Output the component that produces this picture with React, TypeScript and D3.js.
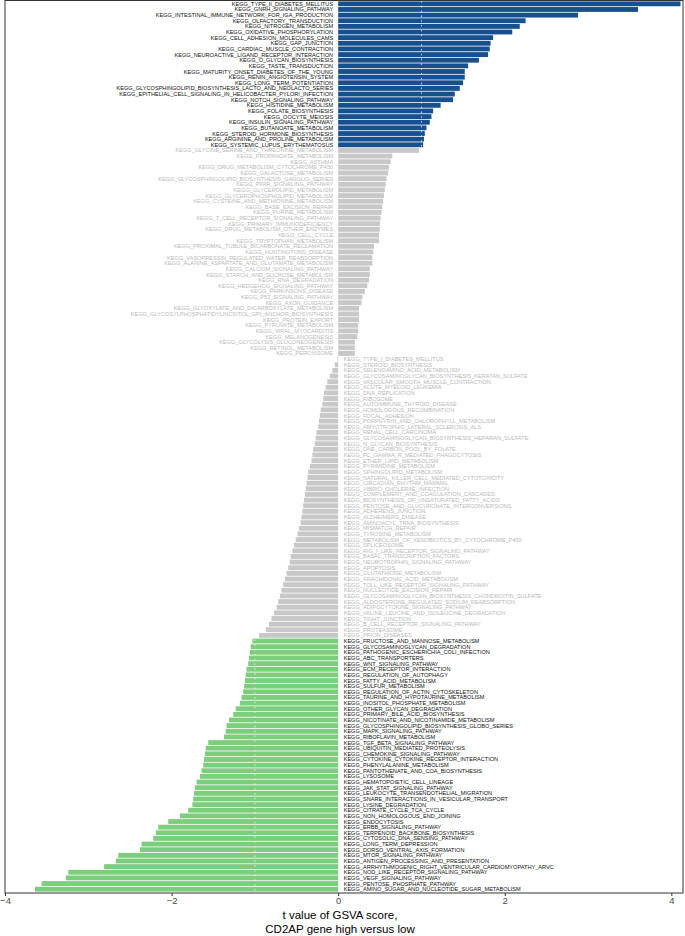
import * as d3 from "d3";
import { useEffect, useRef } from "react";

const W = 685;
const H = 936;

// significantly up (blue)
const upSigNames = [
  "KEGG_TYPE_II_DIABETES_MELLITUS",
  "KEGG_GNRH_SIGNALING_PATHWAY",
  "KEGG_INTESTINAL_IMMUNE_NETWORK_FOR_IGA_PRODUCTION",
  "KEGG_OLFACTORY_TRANSDUCTION",
  "KEGG_NITROGEN_METABOLISM",
  "KEGG_OXIDATIVE_PHOSPHORYLATION",
  "KEGG_CELL_ADHESION_MOLECULES_CAMS",
  "KEGG_GAP_JUNCTION",
  "KEGG_CARDIAC_MUSCLE_CONTRACTION",
  "KEGG_NEUROACTIVE_LIGAND_RECEPTOR_INTERACTION",
  "KEGG_O_GLYCAN_BIOSYNTHESIS",
  "KEGG_TASTE_TRANSDUCTION",
  "KEGG_MATURITY_ONSET_DIABETES_OF_THE_YOUNG",
  "KEGG_RENIN_ANGIOTENSIN_SYSTEM",
  "KEGG_LONG_TERM_POTENTIATION",
  "KEGG_GLYCOSPHINGOLIPID_BIOSYNTHESIS_LACTO_AND_NEOLACTO_SERIES",
  "KEGG_EPITHELIAL_CELL_SIGNALING_IN_HELICOBACTER_PYLORI_INFECTION",
  "KEGG_NOTCH_SIGNALING_PATHWAY",
  "KEGG_HISTIDINE_METABOLISM",
  "KEGG_FOLATE_BIOSYNTHESIS",
  "KEGG_OOCYTE_MEIOSIS",
  "KEGG_INSULIN_SIGNALING_PATHWAY",
  "KEGG_BUTANOATE_METABOLISM",
  "KEGG_STEROID_HORMONE_BIOSYNTHESIS",
  "KEGG_ARGININE_AND_PROLINE_METABOLISM",
  "KEGG_SYSTEMIC_LUPUS_ERYTHEMATOSUS",
];
const upSigT = [
  4.11, 3.6, 2.88, 2.25, 2.18, 2.09, 1.86, 1.83, 1.82, 1.8, 1.69, 1.56, 1.52,
  1.52, 1.5, 1.46, 1.4, 1.38, 1.23, 1.14, 1.12, 1.1, 1.06, 1.04, 1.03, 1.02,
];

// not significant, positive (grey)
const upNsNames = [
  "KEGG_GLYCINE_SERINE_AND_THREONINE_METABOLISM",
  "KEGG_PROPANOATE_METABOLISM",
  "KEGG_ASTHMA",
  "KEGG_DRUG_METABOLISM_CYTOCHROME_P450",
  "KEGG_GALACTOSE_METABOLISM",
  "KEGG_GLYCOSPHINGOLIPID_BIOSYNTHESIS_GANGLIO_SERIES",
  "KEGG_PPAR_SIGNALING_PATHWAY",
  "KEGG_GLYCEROLIPID_METABOLISM",
  "KEGG_GLYCEROPHOSPHOLIPID_METABOLISM",
  "KEGG_CYSTEINE_AND_METHIONINE_METABOLISM",
  "KEGG_BASE_EXCISION_REPAIR",
  "KEGG_PURINE_METABOLISM",
  "KEGG_T_CELL_RECEPTOR_SIGNALING_PATHWAY",
  "KEGG_PRIMARY_IMMUNODEFICIENCY",
  "KEGG_DRUG_METABOLISM_OTHER_ENZYMES",
  "KEGG_CELL_CYCLE",
  "KEGG_TRYPTOPHAN_METABOLISM",
  "KEGG_PROXIMAL_TUBULE_BICARBONATE_RECLAMATION",
  "KEGG_HUNTINGTONS_DISEASE",
  "KEGG_VASOPRESSIN_REGULATED_WATER_REABSORPTION",
  "KEGG_ALANINE_ASPARTATE_AND_GLUTAMATE_METABOLISM",
  "KEGG_CALCIUM_SIGNALING_PATHWAY",
  "KEGG_STARCH_AND_SUCROSE_METABOLISM",
  "KEGG_RNA_DEGRADATION",
  "KEGG_HEDGEHOG_SIGNALING_PATHWAY",
  "KEGG_PARKINSONS_DISEASE",
  "KEGG_P53_SIGNALING_PATHWAY",
  "KEGG_AXON_GUIDANCE",
  "KEGG_GLYOXYLATE_AND_DICARBOXYLATE_METABOLISM",
  "KEGG_GLYCOSYLPHOSPHATIDYLINOSITOL_GPI_ANCHOR_BIOSYNTHESIS",
  "KEGG_PROTEIN_EXPORT",
  "KEGG_PYRUVATE_METABOLISM",
  "KEGG_VIRAL_MYOCARDITIS",
  "KEGG_MELANOGENESIS",
  "KEGG_GLYCOLYSIS_GLUCONEOGENESIS",
  "KEGG_RETINOL_METABOLISM",
  "KEGG_PEROXISOME",
];
const upNsT = [
  0.97, 0.65, 0.63, 0.61, 0.6, 0.58, 0.57, 0.56, 0.55, 0.54, 0.53, 0.52, 0.51,
  0.5, 0.5, 0.49, 0.49, 0.43, 0.42, 0.41, 0.41, 0.38, 0.38, 0.37, 0.35, 0.32,
  0.29, 0.28, 0.25, 0.25, 0.25, 0.24, 0.24, 0.23, 0.2, 0.2, 0.2,
];

// not significant, negative (grey)
const downNsNames = [
  "KEGG_TYPE_I_DIABETES_MELLITUS",
  "KEGG_STEROID_BIOSYNTHESIS",
  "KEGG_SELENOAMINO_ACID_METABOLISM",
  "KEGG_GLYCOSAMINOGLYCAN_BIOSYNTHESIS_KERATAN_SULFATE",
  "KEGG_VASCULAR_SMOOTH_MUSCLE_CONTRACTION",
  "KEGG_ACUTE_MYELOID_LEUKEMIA",
  "KEGG_DNA_REPLICATION",
  "KEGG_RIBOSOME",
  "KEGG_AUTOIMMUNE_THYROID_DISEASE",
  "KEGG_HOMOLOGOUS_RECOMBINATION",
  "KEGG_FOCAL_ADHESION",
  "KEGG_PORPHYRIN_AND_CHLOROPHYLL_METABOLISM",
  "KEGG_AMYOTROPHIC_LATERAL_SCLEROSIS_ALS",
  "KEGG_RENAL_CELL_CARCINOMA",
  "KEGG_GLYCOSAMINOGLYCAN_BIOSYNTHESIS_HEPARAN_SULFATE",
  "KEGG_N_GLYCAN_BIOSYNTHESIS",
  "KEGG_ONE_CARBON_POOL_BY_FOLATE",
  "KEGG_FC_GAMMA_R_MEDIATED_PHAGOCYTOSIS",
  "KEGG_ETHER_LIPID_METABOLISM",
  "KEGG_PYRIMIDINE_METABOLISM",
  "KEGG_SPHINGOLIPID_METABOLISM",
  "KEGG_NATURAL_KILLER_CELL_MEDIATED_CYTOTOXICITY",
  "KEGG_CIRCADIAN_RHYTHM_MAMMAL",
  "KEGG_VIBRIO_CHOLERAE_INFECTION",
  "KEGG_COMPLEMENT_AND_COAGULATION_CASCADES",
  "KEGG_BIOSYNTHESIS_OF_UNSATURATED_FATTY_ACIDS",
  "KEGG_PENTOSE_AND_GLUCURONATE_INTERCONVERSIONS",
  "KEGG_ADHERENS_JUNCTION",
  "KEGG_ALZHEIMERS_DISEASE",
  "KEGG_AMINOACYL_TRNA_BIOSYNTHESIS",
  "KEGG_MISMATCH_REPAIR",
  "KEGG_TYROSINE_METABOLISM",
  "KEGG_METABOLISM_OF_XENOBIOTICS_BY_CYTOCHROME_P450",
  "KEGG_SPLICEOSOME",
  "KEGG_RIG_I_LIKE_RECEPTOR_SIGNALING_PATHWAY",
  "KEGG_BASAL_TRANSCRIPTION_FACTORS",
  "KEGG_NEUROTROPHIN_SIGNALING_PATHWAY",
  "KEGG_APOPTOSIS",
  "KEGG_GLUTATHIONE_METABOLISM",
  "KEGG_ARACHIDONIC_ACID_METABOLISM",
  "KEGG_TOLL_LIKE_RECEPTOR_SIGNALING_PATHWAY",
  "KEGG_NUCLEOTIDE_EXCISION_REPAIR",
  "KEGG_GLYCOSAMINOGLYCAN_BIOSYNTHESIS_CHONDROITIN_SULFATE",
  "KEGG_ALDOSTERONE_REGULATED_SODIUM_REABSORPTION",
  "KEGG_ADIPOCYTOKINE_SIGNALING_PATHWAY",
  "KEGG_VALINE_LEUCINE_AND_ISOLEUCINE_DEGRADATION",
  "KEGG_TIGHT_JUNCTION",
  "KEGG_B_CELL_RECEPTOR_SIGNALING_PATHWAY",
  "KEGG_PROTEASOME",
  "KEGG_PRION_DISEASES",
];
const downNsT = [
  -0.01, -0.04, -0.07, -0.1, -0.13, -0.15, -0.17, -0.18, -0.19, -0.21, -0.22,
  -0.23, -0.24, -0.26, -0.27, -0.28, -0.3, -0.31, -0.32, -0.34, -0.36, -0.37,
  -0.38, -0.39, -0.4, -0.41, -0.42, -0.43, -0.44, -0.45, -0.47, -0.49, -0.51,
  -0.53, -0.55, -0.57, -0.58, -0.6, -0.62, -0.64, -0.66, -0.68, -0.7, -0.72,
  -0.74, -0.77, -0.8, -0.83, -0.87, -0.95,
];

// significantly down (green)
const downSigNames = [
  "KEGG_FRUCTOSE_AND_MANNOSE_METABOLISM",
  "KEGG_GLYCOSAMINOGLYCAN_DEGRADATION",
  "KEGG_PATHOGENIC_ESCHERICHIA_COLI_INFECTION",
  "KEGG_ABC_TRANSPORTERS",
  "KEGG_WNT_SIGNALING_PATHWAY",
  "KEGG_ECM_RECEPTOR_INTERACTION",
  "KEGG_REGULATION_OF_AUTOPHAGY",
  "KEGG_FATTY_ACID_METABOLISM",
  "KEGG_SULFUR_METABOLISM",
  "KEGG_REGULATION_OF_ACTIN_CYTOSKELETON",
  "KEGG_TAURINE_AND_HYPOTAURINE_METABOLISM",
  "KEGG_INOSITOL_PHOSPHATE_METABOLISM",
  "KEGG_OTHER_GLYCAN_DEGRADATION",
  "KEGG_PRIMARY_BILE_ACID_BIOSYNTHESIS",
  "KEGG_NICOTINATE_AND_NICOTINAMIDE_METABOLISM",
  "KEGG_GLYCOSPHINGOLIPID_BIOSYNTHESIS_GLOBO_SERIES",
  "KEGG_MAPK_SIGNALING_PATHWAY",
  "KEGG_RIBOFLAVIN_METABOLISM",
  "KEGG_TGF_BETA_SIGNALING_PATHWAY",
  "KEGG_UBIQUITIN_MEDIATED_PROTEOLYSIS",
  "KEGG_CHEMOKINE_SIGNALING_PATHWAY",
  "KEGG_CYTOKINE_CYTOKINE_RECEPTOR_INTERACTION",
  "KEGG_PHENYLALANINE_METABOLISM",
  "KEGG_PANTOTHENATE_AND_COA_BIOSYNTHESIS",
  "KEGG_LYSOSOME",
  "KEGG_HEMATOPOIETIC_CELL_LINEAGE",
  "KEGG_JAK_STAT_SIGNALING_PATHWAY",
  "KEGG_LEUKOCYTE_TRANSENDOTHELIAL_MIGRATION",
  "KEGG_SNARE_INTERACTIONS_IN_VESICULAR_TRANSPORT",
  "KEGG_LYSINE_DEGRADATION",
  "KEGG_CITRATE_CYCLE_TCA_CYCLE",
  "KEGG_NON_HOMOLOGOUS_END_JOINING",
  "KEGG_ENDOCYTOSIS",
  "KEGG_ERBB_SIGNALING_PATHWAY",
  "KEGG_TERPENOID_BACKBONE_BIOSYNTHESIS",
  "KEGG_CYTOSOLIC_DNA_SENSING_PATHWAY",
  "KEGG_LONG_TERM_DEPRESSION",
  "KEGG_DORSO_VENTRAL_AXIS_FORMATION",
  "KEGG_MTOR_SIGNALING_PATHWAY",
  "KEGG_ANTIGEN_PROCESSING_AND_PRESENTATION",
  "KEGG_ARRHYTHMOGENIC_RIGHT_VENTRICULAR_CARDIOMYOPATHY_ARVC",
  "KEGG_NOD_LIKE_RECEPTOR_SIGNALING_PATHWAY",
  "KEGG_VEGF_SIGNALING_PATHWAY",
  "KEGG_PENTOSE_PHOSPHATE_PATHWAY",
  "KEGG_AMINO_SUGAR_AND_NUCLEOTIDE_SUGAR_METABOLISM",
];
const downSigT = [
  -1.03, -1.05, -1.06, -1.07, -1.08, -1.1, -1.11, -1.12, -1.13, -1.14, -1.16,
  -1.18, -1.23, -1.26, -1.31, -1.34, -1.35, -1.37, -1.56, -1.59, -1.6, -1.61,
  -1.62, -1.64, -1.66, -1.7, -1.72, -1.73, -1.74, -1.75, -1.8, -1.9, -2.04,
  -2.16, -2.19, -2.22, -2.36, -2.38, -2.64, -2.67, -2.81, -3.24, -3.27, -3.56,
  -3.64,
];

const xLimits = [-4, 4.14];
const xTicks = [-4, -2, 0, 2, 4];
const cutoff = 1;

const colors = { up: "#17508f", down: "#7ccd7c", ns: "#c8c8c8" };
const textColors = { up: "#111111", down: "#111111", ns: "#b9b9b9" };

const App = () => {
  const chartRef = useRef<SVGSVGElement>(null);

  const margin = { top: 1, bottom: 43, left: 5, right: 2 };

  useEffect(() => {
    const svg = d3.select(chartRef.current);
    svg.selectAll("*").remove();

    const rows = [
      ...upSigNames.map((n, i) => ({ name: n, t: upSigT[i], grp: "up" })),
      ...upNsNames.map((n, i) => ({ name: n, t: upNsT[i], grp: "ns" })),
      ...downNsNames.map((n, i) => ({ name: n, t: downNsT[i], grp: "ns" })),
      ...downSigNames.map((n, i) => ({ name: n, t: downSigT[i], grp: "down" })),
    ];

    const x = d3
      .scaleLinear()
      .domain(xLimits)
      .range([margin.left, W - margin.right]);

    const y = d3
      .scaleBand()
      .domain(rows.map(d => d.name))
      .range([margin.top, H - margin.bottom - 1])
      .paddingInner(0.14)
      .paddingOuter(0.07);

    svg.append("rect")
      .attr("width", W)
      .attr("height", H)
      .attr("fill", "#ffffff");

    svg.append("g")
      .selectAll("rect")
      .data(rows)
      .enter()
      .append("rect")
      .attr("x", d => Math.min(x(0), x(d.t)))
      .attr("y", d => y(d.name))
      .attr("width", d => Math.abs(x(d.t) - x(0)))
      .attr("height", y.bandwidth())
      .attr("fill", d => colors[d.grp]);

    // dashed cut-off lines
    [cutoff, -cutoff].forEach(v => {
      svg.append("line")
        .attr("x1", x(v))
        .attr("x2", x(v))
        .attr("y1", margin.top)
        .attr("y2", H - margin.bottom)
        .attr("stroke", "#ffffff")
        .attr("stroke-width", 0.7)
        .attr("stroke-dasharray", "1.6,3.2");
    });

    svg.append("g")
      .selectAll("text")
      .data(rows)
      .enter()
      .append("text")
      .attr("x", d => (d.t > 0 ? x(0) - 5 : x(0) + 5.5))
      .attr("y", d => y(d.name) + y.bandwidth() / 2)
      .attr("dy", "0.36em")
      .attr("text-anchor", d => (d.t > 0 ? "end" : "start"))
      .attr("font-family", "'Liberation Sans', Arial, sans-serif")
      .attr("font-size", 5.6)
      .attr("fill", d => textColors[d.grp])
      .text(d => d.name);

    // panel border
    svg.append("rect")
      .attr("x", margin.left)
      .attr("y", margin.top - 0.5)
      .attr("width", W - margin.right - margin.left)
      .attr("height", H - margin.bottom - margin.top + 0.5)
      .attr("fill", "none")
      .attr("stroke", "#333333")
      .attr("stroke-width", 1);

    const xAxis = d3.axisBottom(x).tickValues(xTicks).tickSize(3).tickSizeOuter(0);
    const gx = svg.append("g")
      .attr("transform", `translate(0, ${H - margin.bottom})`)
      .call(xAxis);
    gx.select(".domain").remove();
    gx.selectAll(".tick line").attr("stroke", "#333333");
    gx.selectAll(".tick text")
      .attr("font-family", "'Liberation Sans', Arial, sans-serif")
      .attr("font-size", 9.5)
      .attr("fill", "#4d4d4d")
      .attr("dy", "0.55em");

    const cx = (margin.left + W - margin.right) / 2 - 4;
    svg.append("text")
      .attr("x", cx)
      .attr("y", H - 17)
      .attr("text-anchor", "middle")
      .attr("font-family", "'Liberation Sans', Arial, sans-serif")
      .attr("font-size", 11.5)
      .attr("fill", "#000000")
      .text("t value of GSVA score,");
    svg.append("text")
      .attr("x", cx)
      .attr("y", H - 3)
      .attr("text-anchor", "middle")
      .attr("font-family", "'Liberation Sans', Arial, sans-serif")
      .attr("font-size", 11.5)
      .attr("fill", "#000000")
      .text("CD2AP gene high versus low");
  }, []);

  return (
    <svg
      ref={chartRef}
      width={W}
      height={H}
      style={{ position: "absolute", left: 0, top: 0 }}
    ></svg>
  );
};

export default App;
